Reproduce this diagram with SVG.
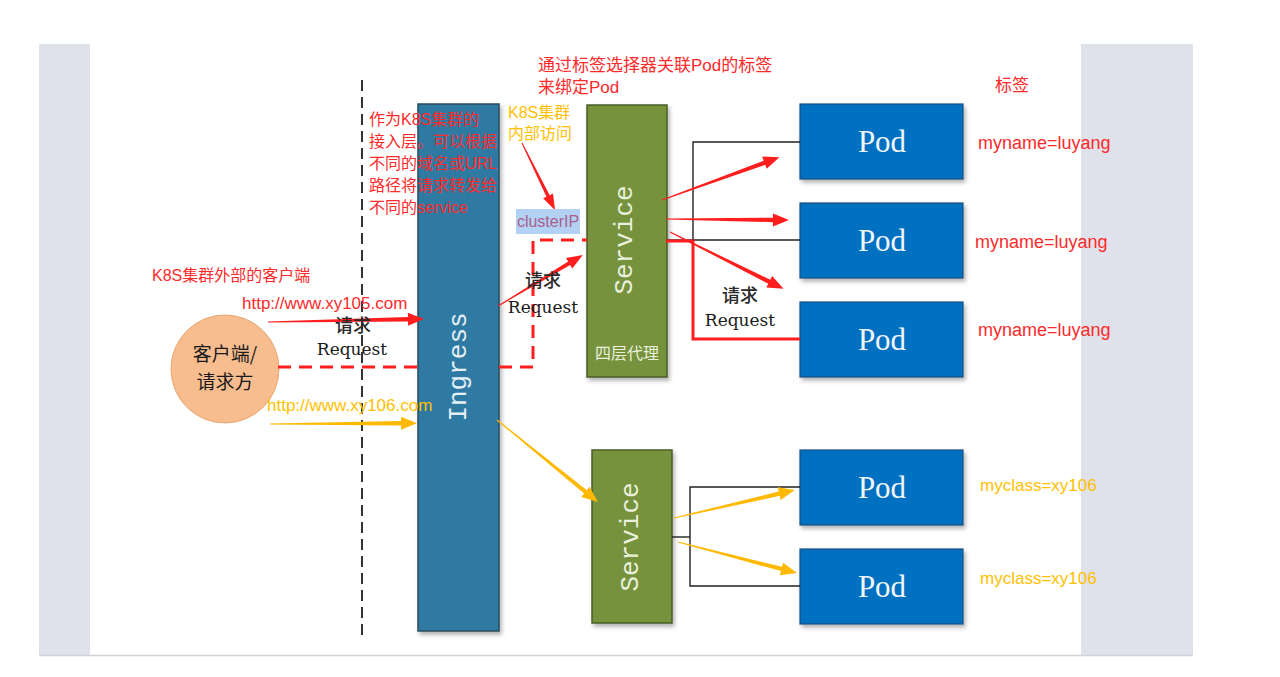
<svg xmlns="http://www.w3.org/2000/svg" width="1280" height="677" viewBox="0 0 1280 677">
<defs>
<style>
.cjk{font-family:"Liberation Sans","Noto Sans CJK SC",sans-serif;}
.red{fill:#ff2a2a;}
.org{fill:#ffc000;}
.req{font-family:"DejaVu Serif","Noto Sans CJK SC",serif;fill:#1a1a1a;text-anchor:middle;}
.reqc{font-family:"Noto Sans CJK SC",sans-serif;font-weight:500;fill:#2a2a2a;text-anchor:middle;font-size:18px;}
.mono{font-family:"Liberation Mono",monospace;font-size:26px;text-anchor:middle;dominant-baseline:central;}
.pod rect{fill:#0070c0;stroke:#1d4f80;stroke-width:1.2;}
.pod text{font-family:"Liberation Serif",serif;font-size:31px;fill:#f2f6fb;text-anchor:middle;}
.svc rect{fill:#76923c;stroke:#4b5e26;stroke-width:1.5;}
.svc text{fill:#e9f0dc;}
.thin{stroke:#222;stroke-width:1.4;fill:none;}
.aR{fill:#ff1e1e;}
.aO{fill:#ffb900;}
</style>
<filter id="sh" x="-10%" y="-10%" width="130%" height="130%">
<feDropShadow dx="2" dy="3" stdDeviation="2" flood-color="#000" flood-opacity="0.3"/>
</filter>
</defs>
<rect x="0" y="0" width="1280" height="677" fill="#ffffff"/>
<rect x="39" y="44" width="1154" height="612" fill="#dfe2ea"/>
<rect x="90" y="44" width="991" height="611" fill="#ffffff"/>
<line x1="39" y1="655.5" x2="1193" y2="655.5" stroke="#cfd2d9" stroke-width="1.5"/>

<!-- boundary -->
<line x1="362" y1="80" x2="362" y2="640" stroke="#333" stroke-width="2" stroke-dasharray="11,6"/>

<!-- client -->
<g id="client">
<circle cx="225" cy="369" r="54" fill="#f7bd8f" stroke="#e8a772" stroke-width="1"/>
<text x="225" y="361" text-anchor="middle" font-family="Noto Sans CJK SC,sans-serif" font-size="19" fill="#1a1a1a">客户端/</text>
<text x="225" y="389" text-anchor="middle" font-family="Noto Sans CJK SC,sans-serif" font-size="19" fill="#1a1a1a">请求方</text>
</g>

<!-- ingress -->
<g id="ingress">
<rect x="418" y="104" width="81" height="527" fill="#2f7aa3" stroke="#2a4c5e" stroke-width="1.5" filter="url(#sh)"/>
<text class="mono" transform="translate(459,367) rotate(-90)" fill="#e4eef5">Ingress</text>
</g>

<!-- services -->
<g id="service1" class="svc">
<rect x="587" y="105" width="80" height="272" filter="url(#sh)"/>
<text class="mono" transform="translate(625,240) rotate(-90)">Service</text>
<text x="627" y="359" text-anchor="middle" class="cjk org" font-size="16">四层代理</text>
</g>
<g id="service2" class="svc">
<rect x="592" y="450" width="80" height="173" filter="url(#sh)"/>
<text class="mono" transform="translate(631,537) rotate(-90)">Service</text>
</g>

<!-- pods -->
<g id="pod1" class="pod"><rect x="800" y="104" width="163" height="75" filter="url(#sh)"/><text x="882" y="152">Pod</text></g>
<g id="pod2" class="pod"><rect x="800" y="203" width="163" height="75" filter="url(#sh)"/><text x="882" y="251">Pod</text></g>
<g id="pod3" class="pod"><rect x="800" y="302" width="163" height="75" filter="url(#sh)"/><text x="882" y="350">Pod</text></g>
<g id="pod4" class="pod"><rect x="800" y="450" width="163" height="75" filter="url(#sh)"/><text x="882" y="498">Pod</text></g>
<g id="pod5" class="pod"><rect x="800" y="549" width="163" height="75" filter="url(#sh)"/><text x="882" y="597">Pod</text></g>

<!-- connectors -->
<g id="connectors">
<polyline class="thin" points="800,142 693,142 693,240 800,240"/>
<line class="thin" x1="666" y1="240" x2="693" y2="240"/>
<polyline points="666,241 693,241 693,339 800,339" fill="none" stroke="#ff1e1e" stroke-width="3"/>
<polyline class="thin" points="800,487 690,487 690,586 800,586"/>
<line class="thin" x1="672" y1="537" x2="690" y2="537"/>
<line x1="278" y1="367" x2="418" y2="367" stroke="#ff1e1e" stroke-width="3" stroke-dasharray="13,8"/>
<polyline points="499,367 533,367 533,240 587,240" fill="none" stroke="#ff1e1e" stroke-width="3" stroke-dasharray="13,8"/>

<path class="aR" transform="translate(268,322) rotate(-1.1)" d="M0,-0.6 L140,-2.3 L140,-6.5 L156,0 L140,6.5 L140,2.3 L0,0.6 Z"/>
<path class="aO" transform="translate(270,424) rotate(-0.3)" d="M0,-0.6 L131,-2.3 L131,-6.5 L147,0 L131,6.5 L131,2.3 L0,0.6 Z"/>
<path class="aR" transform="translate(498,306) rotate(-31)" d="M0,-0.5 L83,-2 L83,-6 L99,0 L83,6 L83,2 L0,0.5 Z"/>
<path class="aO" transform="translate(497,420) rotate(39.1)" d="M0,-0.5 L114,-2.2 L114,-6.5 L130,0 L114,6.5 L114,2.2 L0,0.5 Z"/>
<path class="aR" transform="translate(662,200) rotate(-20)" d="M0,-0.5 L109,-2.2 L109,-6.5 L125,0 L109,6.5 L109,2.2 L0,0.5 Z"/>
<path class="aR" transform="translate(666,219) rotate(0.5)" d="M0,-0.5 L107,-2.2 L107,-6.5 L123,0 L107,6.5 L107,2.2 L0,0.5 Z"/>
<path class="aR" transform="translate(670,232) rotate(26.6)" d="M0,-0.5 L111,-2.2 L111,-6.5 L127,0 L111,6.5 L111,2.2 L0,0.5 Z"/>
<path class="aO" transform="translate(674,518) rotate(-13)" d="M0,-0.5 L108,-2.2 L108,-6.5 L124,0 L108,6.5 L108,2.2 L0,0.5 Z"/>
<path class="aO" transform="translate(678,542) rotate(14.6)" d="M0,-0.5 L107,-2.2 L107,-6.5 L123,0 L107,6.5 L107,2.2 L0,0.5 Z"/>
<path class="aR" transform="translate(522,143) rotate(63.8)" d="M0,-0.5 L59,-1.8 L59,-5.5 L75,0 L59,5.5 L59,1.8 L0,0.5 Z"/>
</g>

<!-- labels -->
<g id="labels">
<text x="152" y="281" class="cjk red" font-size="16">K8S集群外部的客户端</text>
<text x="242" y="309" class="cjk red" font-size="17">http://www.xy105.com</text>
<text x="267" y="411" class="cjk org" font-size="17">http://www.xy106.com</text>
<text x="353" y="332" class="reqc">请求</text>
<text x="352" y="355" class="req" font-size="17">Request</text>
<text x="543" y="287" class="reqc">请求</text>
<text x="543" y="313" class="req" font-size="17">Request</text>
<text x="740" y="302" class="reqc">请求</text>
<text x="740" y="326" class="req" font-size="17">Request</text>

<g class="cjk red" font-size="16">
<text x="369" y="125">作为K8S集群的</text>
<text x="369" y="147">接入层。可以根据</text>
<text x="369" y="169">不同的域名或URL</text>
<text x="369" y="191">路径将请求转发给</text>
<text x="369" y="213">不同的service</text>
</g>
<g class="cjk org" font-size="16">
<text x="508" y="118">K8S集群</text>
<text x="508" y="139">内部访问</text>
</g>
<rect x="516" y="209" width="64" height="25" fill="#b3d1f2"/>
<text x="548" y="227" text-anchor="middle" font-family="Liberation Sans,sans-serif" font-size="16" fill="#a8608f">clusterIP</text>

<g class="cjk red" font-size="17">
<text x="538" y="71">通过标签选择器关联Pod的标签</text>
<text x="538" y="93">来绑定Pod</text>
<text x="995" y="91">标签</text>
</g>
<g class="cjk red" font-size="18">
<text x="978" y="149">myname=luyang</text>
<text x="975" y="248">myname=luyang</text>
<text x="978" y="336">myname=luyang</text>
</g>
<g class="cjk org" font-size="17">
<text x="980" y="491">myclass=xy106</text>
<text x="980" y="584">myclass=xy106</text>
</g>
</g>
</svg>
